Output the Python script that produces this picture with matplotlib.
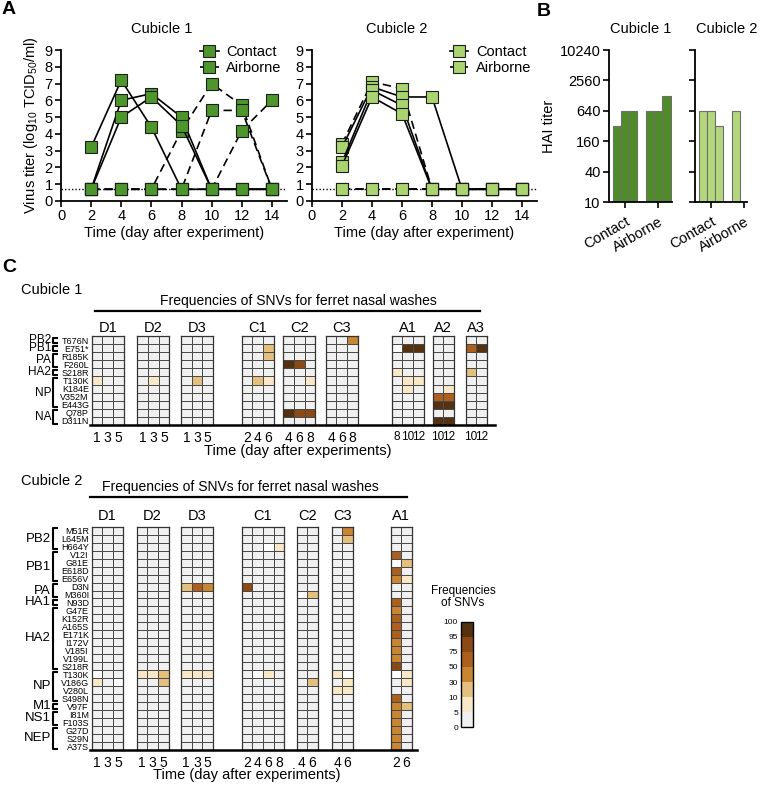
import numpy as np
import matplotlib
matplotlib.use("Agg")
import matplotlib.pyplot as plt
from matplotlib.colors import ListedColormap, BoundaryNorm
from matplotlib.cm import ScalarMappable

plt.rcParams['font.family'] = ['Liberation Sans', 'DejaVu Sans']
plt.rcParams['mathtext.fontset'] = 'custom'
plt.rcParams['mathtext.rm'] = 'Liberation Sans'
plt.rcParams['mathtext.it'] = 'Liberation Sans:italic'
plt.rcParams['mathtext.bf'] = 'Liberation Sans:bold'

nan = np.nan
L = 0.7  # detection limit

# ---- panel A data (log10 TCID50/ml) ----
days = [2, 4, 6, 8, 10, 12, 14]
c1_contact = [[3.2, 7.2, 4.4, L, L, L, L],
              [L, 6.0, 6.4, 5.0, L, L, L],
              [L, 5.0, 6.2, 4.5, L, L, L]]
c1_airborne = [[L, L, L, 4.2, 7.0, 5.7, L],
               [L, L, L, L, 5.4, 5.4, L],
               [L, L, L, L, L, 4.2, 6.0]]
c2_contact = [[3.2, 6.8, 6.2, 6.2, L, L, L],
              [2.3, 6.6, 5.7, L, L, L, L],
              [2.1, 6.2, 5.2, L, L, L, L]]
c2_airborne = [[3.4, 7.1, 6.7, L, L, L, L],
               [L, L, L, L, L, L, L],
               [L, L, L, L, L, L, L]]

# ---- panel B data (HAI titer) ----
hai_groups = ['Contact', 'Airborne']
hai_c1 = [[320, 640, 640], [640, 640, 1280]]
hai_c2 = [[640, 640, 320], [640, nan, nan]]
hai_ticks = [10, 40, 160, 640, 2560, 10240]

# ---- panel C data (SNV frequencies, %) ----
snv_bounds = [0, 5, 10, 30, 50, 75, 95, 100]
snv_colors = ['#f0f0f0', '#f8e8c8', '#e3c07e', '#c98632', '#ad5f1d', '#8b4a14', '#55320f']

c1_groups = ['D1', 'D2', 'D3', 'C1', 'C2', 'C3', 'A1', 'A2', 'A3']
c1_days = [[1, 3, 5], [1, 3, 5], [1, 3, 5], [2, 4, 6], [4, 6, 8], [4, 6, 8], [8, 10, 12], [10, 12], [10, 12]]
c1_rows = ['T676N', 'E751*', 'R185K', 'F260L', 'S218R', 'T130K', 'K184E', 'V352M', 'E443G', 'Q78P', 'D311N']
c1_prot = [('PB2', 0, 0), ('PB1', 1, 1), ('PA', 2, 3), ('HA2', 4, 4), ('NP', 5, 8), ('NA', 9, 10)]
c1_snv = np.array([
    # D1     D2     D3      C1       C2         C3       A1          A2      A3
    [0,0,0, 0,0,0, 0,0,0,  0,0,0,   0,0,0,     0,0,40,  0,0,0,      0,0,    0,0],    # T676N
    [0,0,0, 0,0,0, 0,0,0,  0,0,20,  0,0,0,     0,0,0,   nan,98,98,  0,0,    60,98],  # E751*
    [0,0,0, 0,0,0, 0,0,0,  0,0,20,  0,0,0,     0,0,0,   0,0,0,      0,0,    0,0],    # R185K
    [0,0,0, 0,0,0, 0,0,0,  0,0,0,   98,85,0,   0,0,0,   0,0,0,      0,0,    0,0],    # F260L
    [0,0,0, 0,0,0, 0,0,0,  0,0,0,   0,0,0,     0,0,0,   7,0,0,      0,0,    20,0],   # S218R
    [7,0,0, 0,7,0, 0,20,0, 0,20,7,  0,0,7,     0,0,0,   0,7,7,      0,0,    0,0],    # T130K
    [0,0,0, 0,0,0, 0,0,0,  0,0,0,   0,0,0,     0,0,0,   0,7,0,      0,7,    0,0],    # K184E
    [0,0,0, 0,0,0, 0,0,0,  0,0,0,   0,0,0,     0,0,0,   0,0,0,      60,60,  0,0],    # V352M
    [0,0,0, 0,0,0, 0,0,0,  0,0,0,   0,0,0,     0,0,0,   0,0,0,      98,98,  0,0],    # E443G
    [0,0,0, 0,0,0, 0,0,0,  0,0,0,   98,85,85,  0,0,0,   0,0,0,      0,0,    0,0],    # Q78P
    [0,0,0, 0,0,0, 0,0,0,  0,0,0,   0,0,0,     0,0,0,   0,0,0,      98,98,  0,0],    # D311N
])

c2_groups = ['D1', 'D2', 'D3', 'C1', 'C2', 'C3', 'A1']
c2_days = [[1, 3, 5], [1, 3, 5], [1, 3, 5], [2, 4, 6, 8], [4, 6], [4, 6], [2, 6]]
c2_rows = ['M51R', 'L645M', 'H664Y', 'V12I', 'G81E', 'E618D', 'E656V', 'D3N', 'M360I', 'N93D',
           'G47E', 'K152R', 'A165S', 'E171K', 'I172V', 'V185I', 'V199L', 'S218R',
           'T130K', 'V186G', 'V280L', 'S498N', 'V97F', 'I81M', 'F103S', 'G27D', 'S29N', 'A37S']
c2_prot = [('PB2', 0, 2), ('PB1', 3, 6), ('PA', 7, 8), ('HA1', 9, 9), ('HA2', 10, 17),
           ('NP', 18, 21), ('M1', 22, 22), ('NS1', 23, 24), ('NEP', 25, 27)]
c2_snv = np.array([
    # D1       D2      D3        C1           C2        C3      A1
    [0,0,0,   0,0,0,  0,0,0,    0,0,0,0,     0,0,      0,40,   0,0],     # M51R
    [0,0,0,   0,0,0,  0,0,0,    0,0,0,0,     0,0,      0,20,   0,0],     # L645M
    [0,0,0,   0,0,0,  0,0,0,    0,0,nan,7,   0,0,      0,0,    0,0],     # H664Y
    [0,0,0,   0,0,0,  0,0,0,    0,0,0,0,     0,0,      0,0,    60,0],    # V12I
    [0,0,0,   0,0,0,  0,0,0,    0,0,0,0,     0,0,      0,0,    nan,20],  # G81E
    [0,0,0,   0,0,0,  0,0,0,    0,0,0,0,     0,0,      0,0,    60,0],    # E618D
    [0,0,0,   0,0,0,  0,0,0,    0,0,0,0,     0,0,      0,0,    40,7],    # E656V
    [0,0,0,   0,0,0,  20,60,40, 85,0,0,0,    0,0,      0,0,    0,0],     # D3N
    [0,0,0,   0,0,0,  0,0,0,    0,0,0,0,     nan,20,   0,0,    0,0],     # M360I
    [0,0,0,   0,0,0,  0,0,0,    0,0,0,0,     0,0,      0,0,    60,0],    # N93D
    [0,0,0,   0,0,0,  0,0,0,    0,0,0,0,     0,0,      0,0,    40,0],    # G47E
    [0,0,0,   0,0,0,  0,0,0,    0,0,0,0,     0,0,      0,0,    60,0],    # K152R
    [0,0,0,   0,0,0,  0,0,0,    0,0,0,0,     0,0,      0,0,    60,0],    # A165S
    [0,0,0,   0,0,0,  0,0,0,    0,0,0,0,     0,0,      0,0,    60,0],    # E171K
    [0,0,0,   0,0,0,  0,0,0,    0,0,0,0,     0,0,      0,0,    40,0],    # I172V
    [0,0,0,   0,0,0,  0,0,0,    0,0,0,0,     0,0,      0,0,    40,0],    # V185I
    [0,0,0,   0,0,0,  0,0,0,    0,0,0,0,     0,0,      0,0,    40,0],    # V199L
    [0,0,0,   0,0,0,  0,0,0,    0,0,0,0,     0,0,      0,0,    85,0],    # S218R
    [nan,0,0, 7,7,20, 7,7,7,    0,nan,7,0,   0,0,      7,nan,  nan,7],   # T130K
    [7,0,nan, 0,0,20, 0,0,0,    0,0,0,0,     0,20,     0,7,    0,7],     # V186G
    [0,0,0,   0,0,0,  0,0,0,    0,0,0,0,     0,0,      7,7,    0,0],     # V280L
    [0,0,0,   0,0,0,  0,0,0,    0,0,0,0,     0,0,      0,0,    60,0],    # S498N
    [0,0,0,   0,0,0,  0,0,0,    0,0,0,0,     0,0,      0,0,    40,20],   # V97F
    [0,0,0,   0,0,0,  0,0,0,    0,0,0,0,     0,0,      0,0,    40,0],    # I81M
    [0,0,0,   0,0,0,  0,0,0,    0,0,0,0,     0,0,      0,0,    40,0],    # F103S
    [0,0,0,   0,0,0,  0,0,0,    0,0,0,0,     0,0,      0,0,    40,0],    # G27D
    [0,0,0,   0,0,0,  0,0,0,    0,0,0,0,     0,0,      0,0,    40,0],    # S29N
    [0,0,0,   0,0,0,  0,0,0,    0,0,0,0,     0,0,      0,0,    40,0],    # A37S
])

green1 = '#4d962b'
green2 = '#a9d470'
bar1 = '#4f8c27'
bar2 = '#b4d67d'

W, H = 760, 785
fig = plt.figure(figsize=(W / 100, H / 100), dpi=100)


def box(l, t, w, h):
    return [l / W, 1 - (t + h) / H, w / W, h / H]


# overlay in pixel coords for labels / lines
ov = fig.add_axes([0, 0, 1, 1])
ov.set_xlim(0, W)
ov.set_ylim(H, 0)
ov.axis('off')
ov.set_zorder(10)

# ---------------- panel A ----------------
def titer_panel(ax, contact, airborne, col, show_ylabel):
    for v in airborne:
        ax.plot(days, v, color='black', lw=1.2, ls=(0, (5, 3)), marker='s', ms=8,
                mfc=col, mec='#1e1e1e', mew=0.8, label='Airborne', clip_on=False, zorder=3)
    for v in contact:
        ax.plot(days, v, color='black', lw=1.2, ls='-', marker='s', ms=8,
                mfc=col, mec='#1e1e1e', mew=0.8, label='Contact', clip_on=False, zorder=3)
    ax.axhline(L, color='black', lw=1, ls=(0, (1, 1.5)), zorder=1)
    ax.set_xlim(0, 15)
    ax.set_ylim(0, 9)
    ax.set_xticks(range(0, 15, 2))
    ax.set_yticks(range(0, 10))
    for s in ['top', 'right']:
        ax.spines[s].set_visible(False)
    for s in ['left', 'bottom']:
        ax.spines[s].set_linewidth(1.3)
    ax.tick_params(direction='out', length=4, width=1.2, labelsize=10.5, pad=2)
    ax.set_xlabel('Time (day after experiment)', fontsize=10.5, labelpad=2)
    if show_ylabel:
        ax.set_ylabel('Virus titer (log$_{\\mathregular{10}}$ TCID$_{\\mathregular{50}}$/ml)',
                      fontsize=10.5, labelpad=3)
    h, lab = ax.get_legend_handles_labels()
    ax.legend([h[len(airborne)], h[0]], ['Contact', 'Airborne'], loc='upper right',
              bbox_to_anchor=(1.0, 1.07), frameon=False, fontsize=10.5, handlelength=1.3,
              handletextpad=0.5, labelspacing=0.15, borderaxespad=0, numpoints=1)


axA1 = fig.add_axes(box(61, 50, 226, 151))
titer_panel(axA1, c1_contact, c1_airborne, green1, True)
axA2 = fig.add_axes(box(312, 50, 225, 151))
titer_panel(axA2, c2_contact, c2_airborne, green2, False)

ov.text(162, 29, 'Cubicle 1', fontsize=10.5, ha='center', va='center')
ov.text(397, 29, 'Cubicle 2', fontsize=10.5, ha='center', va='center')
ov.text(2, 10, 'A', fontsize=14, fontweight='bold', ha='left', va='center')
ov.text(537, 12, 'B', fontsize=14, fontweight='bold', ha='left', va='center')

# ---------------- panel B ----------------
def hai_panel(ax, vals, col, labels_on):
    bw = 0.25
    for g, grp in enumerate(vals):
        for j, v in enumerate(grp):
            if np.isnan(v):
                continue
            ax.bar(g + (j - 1) * bw, v, width=bw, color=col, edgecolor='#6e6e6e', lw=0.8)
    ax.set_yscale('log', base=2)
    ax.set_ylim(10, 10240)
    ax.set_yticks(hai_ticks)
    ax.set_yticks([], minor=True)
    ax.set_yticklabels([str(t) for t in hai_ticks] if labels_on else [])
    ax.set_xticks(range(len(hai_groups)))
    ax.set_xticklabels(hai_groups, rotation=30, ha='right', rotation_mode='anchor', fontsize=10.5)
    for s in ['top', 'right']:
        ax.spines[s].set_visible(False)
    for s in ['left', 'bottom']:
        ax.spines[s].set_linewidth(1.3)
    ax.tick_params(direction='out', length=4, width=1.2, labelsize=10.5, pad=2)
    ax.tick_params(axis='x', pad=5)


axB1 = fig.add_axes(box(609, 50, 63, 152))
hai_panel(axB1, hai_c1, bar1, True)
axB1.set_xlim(-0.485, 1.42)
axB1.set_ylabel('HAI titer', fontsize=10.5, labelpad=3)
axB2 = fig.add_axes(box(695, 50, 52, 152))
hai_panel(axB2, hai_c2, bar2, False)
axB2.set_xlim(-0.485, 1.09)
ov.text(641, 29, 'Cubicle 1', fontsize=10.5, ha='center', va='center')
ov.text(727, 29, 'Cubicle 2', fontsize=10.5, ha='center', va='center')

# ---------------- panel C ----------------
cmap = ListedColormap(snv_colors)
cmap.set_bad('white')
norm = BoundaryNorm(snv_bounds, cmap.N)


def snv_panel(mat, rows, groups, gdays, prots, gx, top, cw, rh, title_pad, pfs):
    nr = len(rows)
    c0 = 0
    for k, (g, dl, x0) in enumerate(zip(groups, gdays, gx)):
        n = len(dl)
        ax = fig.add_axes(box(x0, top, n * cw, nr * rh))
        sub = np.ma.masked_invalid(mat[:, c0:c0 + n])
        ax.pcolormesh(sub, cmap=cmap, norm=norm, edgecolors='#4a4a4a', linewidth=0.5)
        ax.set_xlim(0, n)
        ax.set_ylim(nr, 0)
        ax.set_xticks(np.arange(n) + 0.5)
        fs = 8.5 if max(dl) >= 10 else 10
        ax.set_xticklabels([str(d) for d in dl], fontsize=fs)
        ax.tick_params(length=0, pad=4)
        if k == 0:
            ax.set_yticks(np.arange(nr) + 0.5)
            ax.set_yticklabels(rows, fontsize=6.5)
            ax.tick_params(axis='y', pad=2)
        else:
            ax.set_yticks([])
        for s in ax.spines.values():
            s.set_linewidth(0.9)
            s.set_color('#333333')
        ax.set_title(g, fontsize=10.5, pad=title_pad)
        c0 += n
    # protein brackets
    for name, r0, r1 in prots:
        yt = top + r0 * rh + 1.5
        yb = top + (r1 + 1) * rh - 1.5
        ov.plot([58, 53, 53, 58], [yt, yt, yb, yb], color='black', lw=1.5, solid_capstyle='butt')
        ov.text(51, (yt + yb) / 2, name, fontsize=pfs, ha='right', va='center')


snv_panel(c1_snv, c1_rows, c1_groups, c1_days, c1_prot,
          [91.7, 137.3, 181, 241.7, 283.3, 325.7, 391.7, 432.7, 465.7], 336, 10.7, 89 / 11, 3, 8.5)
snv_panel(c2_snv, c2_rows, c2_groups, c2_days, c2_prot,
          [91.7, 136.7, 181, 241.7, 296.7, 331.7, 390.7], 526.7, 10.6, 223.3 / 28, 5, 9.5)

ov.text(2, 268, 'C', fontsize=14, fontweight='bold', ha='left', va='center')
ov.text(21, 290, 'Cubicle 1', fontsize=10.5, ha='left', va='center')
ov.text(21, 481, 'Cubicle 2', fontsize=10.5, ha='left', va='center')

ov.text(298, 301, 'Frequencies of SNVs for ferret nasal washes', fontsize=10, ha='center', va='center')
ov.plot([95, 480], [311, 311], color='black', lw=1.6)
ov.plot([90, 495], [425, 425], color='black', lw=1.8)
ov.text(298, 451, 'Time (day after experiments)', fontsize=10.5, ha='center', va='center')

ov.text(240, 487, 'Frequencies of SNVs for ferret nasal washes', fontsize=10, ha='center', va='center')
ov.plot([90, 407], [497, 497], color='black', lw=1.6)
ov.plot([90, 417], [750, 750], color='black', lw=1.8)
ov.text(247, 775, 'Time (day after experiments)', fontsize=10.5, ha='center', va='center')

# colour key
cax = fig.add_axes(box(460.7, 621.7, 12.6, 105.6))
cb = fig.colorbar(ScalarMappable(norm=norm, cmap=cmap), cax=cax, ticks=snv_bounds, spacing='uniform')
cax.yaxis.set_ticks_position('left')
cax.tick_params(length=0, labelsize=6, pad=2)
cb.outline.set_linewidth(1)
ov.text(463, 597, 'Frequencies\nof SNVs', fontsize=8.5, ha='center', va='center', linespacing=1.1)

fig.savefig('out.png', dpi=100)
